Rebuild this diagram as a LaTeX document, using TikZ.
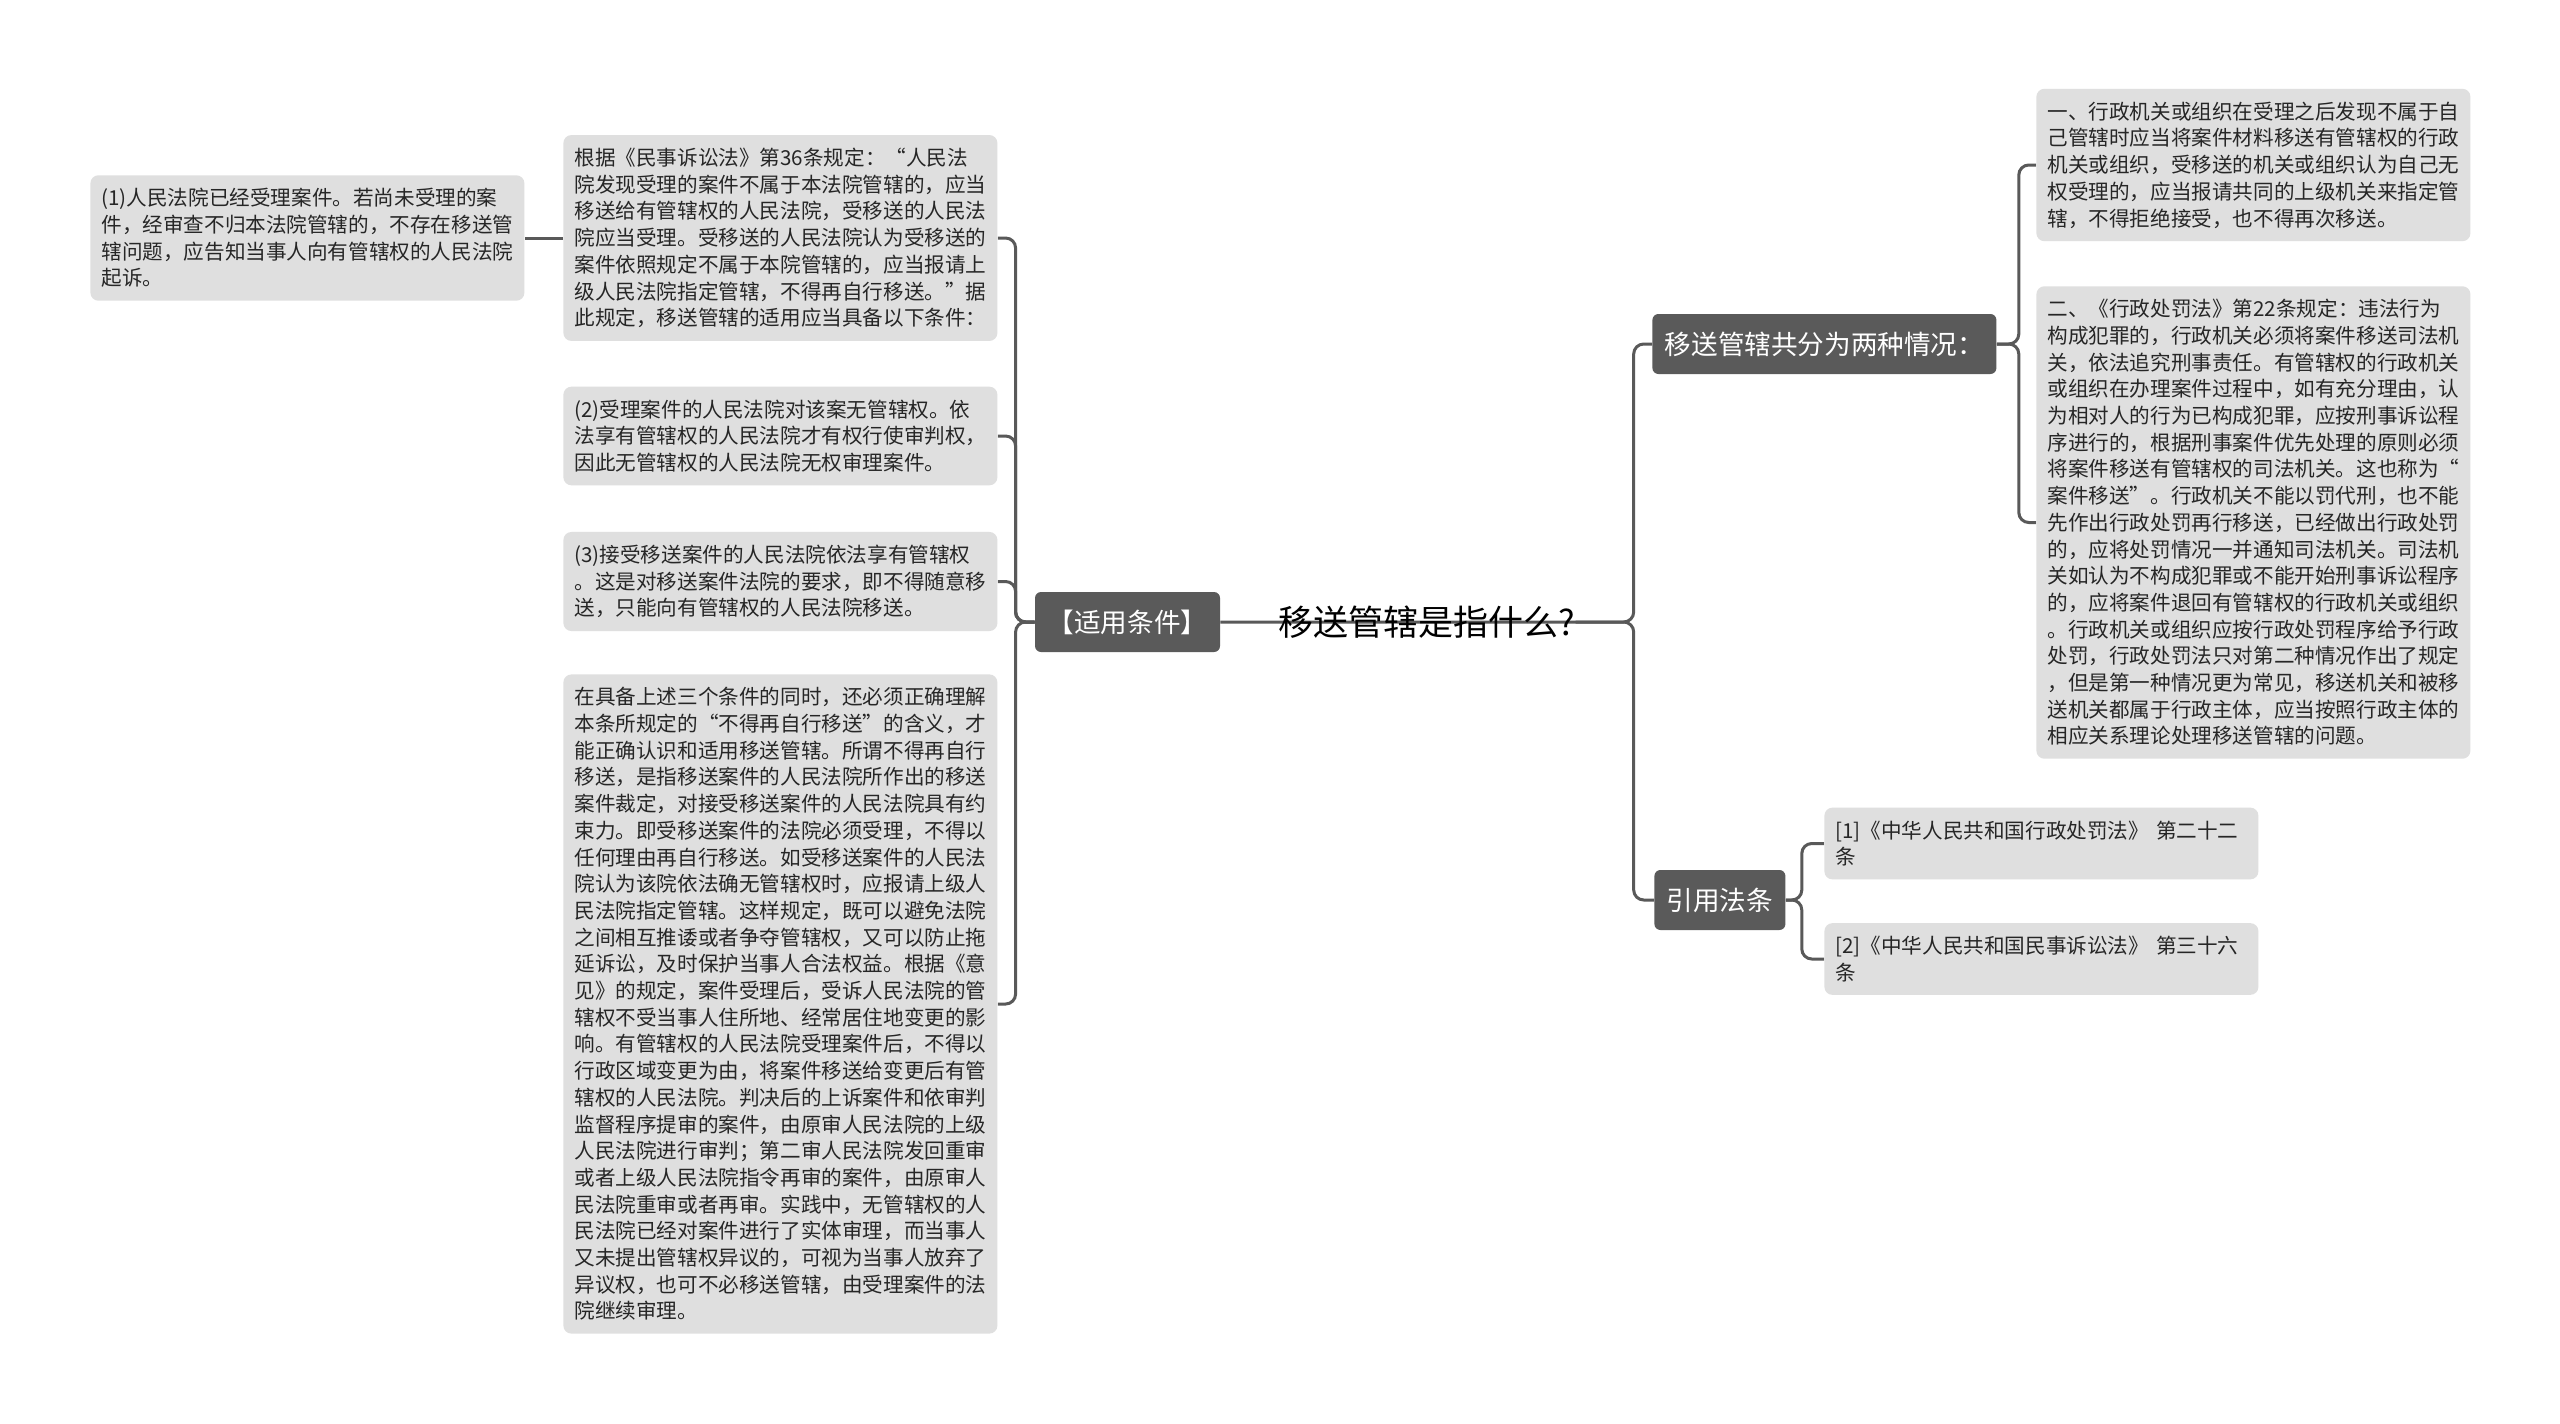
\documentclass[tikz,border=0pt]{standalone}
\usepackage{fontspec}
\setmainfont{Noto Sans CJK SC}
\pgfdeclarelayer{bg}
\pgfsetlayers{bg,main}
\definecolor{topicgray}{HTML}{5A5A5A}
\definecolor{leafgray}{HTML}{DFDFDF}
\definecolor{linkgray}{HTML}{595959}

\begin{document}
\begin{tikzpicture}[x=0.5pt,y=-0.5pt,
        topic/.style={fill=topicgray,text=white,rounded corners=3pt,minimum height=30pt,inner xsep=0pt,font=\fontsize{13.3}{16}\selectfont},
        leaf/.style={fill=leafgray,text=black!85,rounded corners=4pt,text width=206pt,align=left,inner xsep=5.5pt,inner ysep=6.5pt,anchor=west,font=\fontsize{10.3}{13.35}\selectfont},
        link/.style={draw=linkgray,line width=1.5pt,rounded corners=5pt}]
            \useasboundingbox (0,0) rectangle (2560,1424);

            \node[inner sep=0pt,font=\fontsize{17.5}{20}\selectfont] (root) at (1427,622) {移送管辖是指什么?};
            \node[topic,minimum width=92.5pt] (cond) at (1127.5,622) {【适用条件】};
            \node[topic,minimum width=172pt,anchor=west] (move) at (1652,344) {移送管辖共分为两种情况：};
            \node[topic,minimum width=65.5pt,anchor=west] (cite) at (1654,900) {引用法条};

            \node[leaf] (basis) at (563,238) {根据《民事诉讼法》第36条规定：“人民法\\
院发现受理的案件不属于本法院管辖的，应当\\
移送给有管辖权的人民法院，受移送的人民法\\
院应当受理。受移送的人民法院认为受移送的\\
案件依照规定不属于本院管辖的，应当报请上\\
级人民法院指定管辖，不得再自行移送。”据\\
此规定，移送管辖的适用应当具备以下条件：};
            \node[leaf] (c1) at (90,238) {(1)人民法院已经受理案件。若尚未受理的案\\
件，经审查不归本法院管辖的，不存在移送管\\
辖问题，应告知当事人向有管辖权的人民法院\\
起诉。};
            \node[leaf] (c2) at (563,436) {(2)受理案件的人民法院对该案无管辖权。依\\
法享有管辖权的人民法院才有权行使审判权，\\
因此无管辖权的人民法院无权审理案件。};
            \node[leaf] (c3) at (563,581.5) {(3)接受移送案件的人民法院依法享有管辖权\\
。这是对移送案件法院的要求，即不得随意移\\
送，只能向有管辖权的人民法院移送。};
            \node[leaf] (c4) at (563,1004) {在具备上述三个条件的同时，还必须正确理解\\
本条所规定的“不得再自行移送”的含义，才\\
能正确认识和适用移送管辖。所谓不得再自行\\
移送，是指移送案件的人民法院所作出的移送\\
案件裁定，对接受移送案件的人民法院具有约\\
束力。即受移送案件的法院必须受理，不得以\\
任何理由再自行移送。如受移送案件的人民法\\
院认为该院依法确无管辖权时，应报请上级人\\
民法院指定管辖。这样规定，既可以避免法院\\
之间相互推诿或者争夺管辖权，又可以防止拖\\
延诉讼，及时保护当事人合法权益。根据《意\\
见》的规定，案件受理后，受诉人民法院的管\\
辖权不受当事人住所地、经常居住地变更的影\\
响。有管辖权的人民法院受理案件后，不得以\\
行政区域变更为由，将案件移送给变更后有管\\
辖权的人民法院。判决后的上诉案件和依审判\\
监督程序提审的案件，由原审人民法院的上级\\
人民法院进行审判；第二审人民法院发回重审\\
或者上级人民法院指令再审的案件，由原审人\\
民法院重审或者再审。实践中，无管辖权的人\\
民法院已经对案件进行了实体审理，而当事人\\
又未提出管辖权异议的，可视为当事人放弃了\\
异议权，也可不必移送管辖，由受理案件的法\\
院继续审理。};

            \node[leaf] (kind1) at (2036,165) {一、行政机关或组织在受理之后发现不属于自\\
己管辖时应当将案件材料移送有管辖权的行政\\
机关或组织，受移送的机关或组织认为自己无\\
权受理的，应当报请共同的上级机关来指定管\\
辖，不得拒绝接受，也不得再次移送。};
            \node[leaf] (kind2) at (2036,522.5) {二、《行政处罚法》第22条规定：违法行为\\
构成犯罪的，行政机关必须将案件移送司法机\\
关，依法追究刑事责任。有管辖权的行政机关\\
或组织在办理案件过程中，如有充分理由，认\\
为相对人的行为已构成犯罪，应按刑事诉讼程\\
序进行的，根据刑事案件优先处理的原则必须\\
将案件移送有管辖权的司法机关。这也称为“\\
案件移送”。行政机关不能以罚代刑，也不能\\
先作出行政处罚再行移送，已经做出行政处罚\\
的，应将处罚情况一并通知司法机关。司法机\\
关如认为不构成犯罪或不能开始刑事诉讼程序\\
的，应将案件退回有管辖权的行政机关或组织\\
。行政机关或组织应按行政处罚程序给予行政\\
处罚，行政处罚法只对第二种情况作出了规定\\
，但是第一种情况更为常见，移送机关和被移\\
送机关都属于行政主体，应当按照行政主体的\\
相应关系理论处理移送管辖的问题。};

            \node[leaf] (law1) at (1824,843.5) {[1]《中华人民共和国行政处罚法》 第二十二\\
条};
            \node[leaf] (law2) at (1824,959) {[2]《中华人民共和国民事诉讼法》 第三十六\\
条};

            \begin{pgfonlayer}{bg}
            \fill[white] (0,0) rectangle (2560,1424);
            \draw[link] (cond.east) -- (root.east) -- ++(58,0) |- (move.west);
            \draw[link] (root.east) -- ++(58,0) |- (cite.west);

            \draw[link] (cond.west) -- ++(-19,0) |- (basis.east);
            \draw[link] (cond.west) -- ++(-19,0) |- (c2.east);
            \draw[link] (cond.west) -- ++(-19,0) |- (c3.east);
            \draw[link] (cond.west) -- ++(-19,0) |- (c4.east);
            \draw[link] (basis.west) -- (c1.east);

            \draw[link] (move.east) -- ++(22,0) |- (kind1.west);
            \draw[link] (move.east) -- ++(22,0) |- (kind2.west);

            \draw[link] (cite.east) -- ++(16,0) |- (law1.west);
            \draw[link] (cite.east) -- ++(16,0) |- (law2.west);
            \end{pgfonlayer}
        \end{tikzpicture}
\end{document}
